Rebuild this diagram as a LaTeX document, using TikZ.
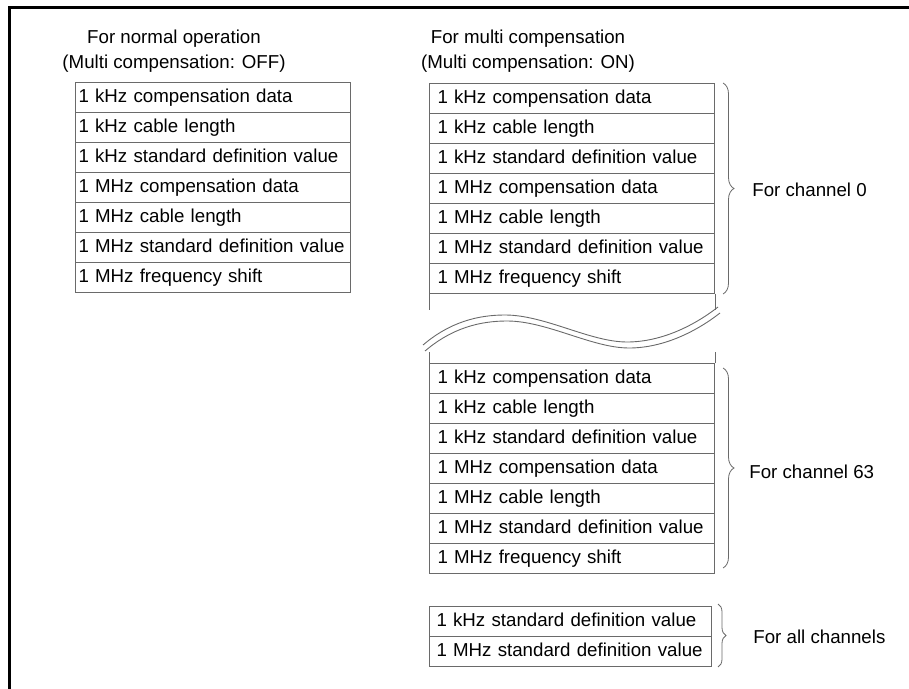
\documentclass[tikz,border=0pt]{standalone}
\usepackage{fontspec}
\setmainfont{Liberation Sans}
\usetikzlibrary{calc, decorations.pathreplacing}
\definecolor{ruleGray}{HTML}{6A6A6A}
\tikzset{
  sheet/.style = {
    font=\fontsize{9.35}{12.5}\selectfont,
    x=0.5pt, y=-0.5pt,
  },
  cellN/.style = {
    rectangle, draw=ruleGray, line width=0.5pt, anchor=north west,
    minimum height=15pt, inner ysep=0pt, inner xsep=1.5pt,
    text width=134.5pt, align=left, text height=7pt, text depth=2.2pt,
  },
  cellM/.style = {cellN, inner xsep=4pt},
  cellA/.style = {cellN, inner xsep=3.5pt, text width=134pt},
  head/.style = {align=center, inner sep=0pt},
  side/.style = {anchor=west, inner sep=0pt},
  brc/.style = {
    draw=ruleGray, line width=0.4pt, decorate,
    decoration={brace, amplitude=5.5pt},
  },
  wave/.style = {draw=ruleGray, line width=0.45pt},
  stub/.style = {draw=ruleGray, line width=0.5pt},
  frame/.style = {line width=1.5pt},
}
\begin{document}
\begin{tikzpicture}[sheet]
\useasboundingbox (0,0) rectangle (909,689);

\draw[frame] (9.5,689) -- (9.5,8) -- (909,8);

% headings
\node[head] (hoff) at (174,51) {For normal operation\\(Multi compensation: OFF)};
\node[head] (hon)  at (528,51) {For multi compensation\\(Multi compensation: ON)};

% multi compensation off
\node[cellN] (n1) at (75,82)  {1 kHz compensation data};
\node[cellN] (n2) at (75,112) {1 kHz cable length};
\node[cellN] (n3) at (75,142) {1 kHz standard definition value};
\node[cellN] (n4) at (75,172) {1 MHz compensation data};
\node[cellN] (n5) at (75,202) {1 MHz cable length};
\node[cellN] (n6) at (75,232) {1 MHz standard definition value};
\node[cellN] (n7) at (75,262) {1 MHz frequency shift};

% channel 0
\node[cellM] (z1) at (429,83)  {1 kHz compensation data};
\node[cellM] (z2) at (429,113) {1 kHz cable length};
\node[cellM] (z3) at (429,143) {1 kHz standard definition value};
\node[cellM] (z4) at (429,173) {1 MHz compensation data};
\node[cellM] (z5) at (429,203) {1 MHz cable length};
\node[cellM] (z6) at (429,233) {1 MHz standard definition value};
\node[cellM] (z7) at (429,263) {1 MHz frequency shift};
\draw[stub] (z7.south west) -- ++(0,16);
\draw[stub] (z7.south east) -- ++(0,16);

% break
\draw[wave] (423,345) .. controls (450,322) and (478,315) .. (505,315)
  .. controls (545,315) and (590,342) .. (627,342)
  .. controls (662,342) and (695,325) .. (718,307);
\draw[wave, shift={(2,6)}] (423,345) .. controls (450,322) and (478,315) .. (505,315)
  .. controls (545,315) and (590,342) .. (627,342)
  .. controls (662,342) and (695,325) .. (718,307);

% channel 63
\node[cellM] (s1) at (429,363) {1 kHz compensation data};
\node[cellM] (s2) at (429,393) {1 kHz cable length};
\node[cellM] (s3) at (429,423) {1 kHz standard definition value};
\node[cellM] (s4) at (429,453) {1 MHz compensation data};
\node[cellM] (s5) at (429,483) {1 MHz cable length};
\node[cellM] (s6) at (429,513) {1 MHz standard definition value};
\node[cellM] (s7) at (429,543) {1 MHz frequency shift};
\draw[stub] (s1.north west) -- ++(0,-11);
\draw[stub] (s1.north east) -- ++(0,-11);

% all channels
\node[cellA] (a1) at (429,606) {1 kHz standard definition value};
\node[cellA] (a2) at (429,636) {1 MHz standard definition value};

% braces and their labels
\draw[brc] ($(z1.north east)+(8,0)$) -- ($(z7.south east)+(8,0)$);
\draw[brc] ($(s1.north east)+(8,5)$) -- ($(s7.south east)+(8,-6)$);
\draw[brc, decoration={amplitude=4pt}] ($(a1.north east)+(6,-2)$) -- ($(a2.south east)+(6,0)$);

\node[side] (l0)  at (752,190) {For channel 0};
\node[side] (l63) at (749,472) {For channel 63};
\node[side] (lall) at (753,637) {For all channels};

\end{tikzpicture}
\end{document}
